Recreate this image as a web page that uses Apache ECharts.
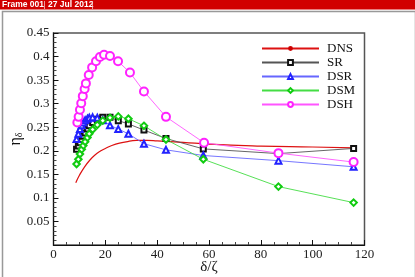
<!DOCTYPE html>
<html><head><meta charset="utf-8">
<script src="https://cdn.jsdelivr.net/npm/echarts@6/dist/echarts.min.js"></script>
<style>html,body{margin:0;padding:0;background:#fff}#c{width:415px;height:277px}</style>
</head><body><div id="c"></div>
<script>
var dnsX = [8.6, 10, 12, 14, 16, 18, 20, 24, 28, 32, 36, 40, 50, 60, 80, 100, 116];
var dnsY = [0.132, 0.148, 0.166, 0.180, 0.191, 0.199, 0.205, 0.214, 0.219, 0.222, 0.222, 0.221, 0.218, 0.214, 0.210, 0.208, 0.206];
var modelX = [8.9, 9.6, 10.2, 10.9, 11.5, 12.2, 13.1, 13.8, 15.1, 16.9, 19.0, 21.8, 25.0, 28.9, 34.9, 43.4, 57.8, 86.8, 115.8];
var srY  = [0.203, 0.210, 0.217, 0.224, 0.231, 0.238, 0.246, 0.253, 0.260, 0.267, 0.271, 0.271, 0.264, 0.257, 0.244, 0.226, 0.204, 0.194, 0.205];
var dsrY = [0.225, 0.236, 0.246, 0.254, 0.260, 0.265, 0.268, 0.270, 0.271, 0.270, 0.265, 0.254, 0.246, 0.236, 0.215, 0.202, 0.190, 0.179, 0.166];
var dsmY = [0.172, 0.182, 0.193, 0.203, 0.211, 0.219, 0.228, 0.236, 0.245, 0.255, 0.264, 0.270, 0.273, 0.268, 0.253, 0.224, 0.182, 0.124, 0.090];
var dshX = [9.2, 9.7, 10.2, 10.7, 11.3, 12.0, 12.5, 13.6, 14.9, 16.4, 17.9, 19.5, 21.8, 24.9, 29.5, 34.9, 43.4, 58.1, 86.8, 115.8];
var dshY = [0.260, 0.272, 0.287, 0.301, 0.316, 0.331, 0.343, 0.361, 0.377, 0.390, 0.399, 0.404, 0.401, 0.390, 0.366, 0.326, 0.272, 0.217, 0.195, 0.176];
var seriesNames = ['DNS', 'SR', 'DSR', 'DSM', 'DSH'];
var headerText1 = 'Frame 001';
var headerText2 = '27 Jul 2012';

function pairs(xs, ys) { return xs.map(function (x, i) { return [x, ys[i]]; }); }

var markColors = ['#cc0000', '#111', '#2222ff', '#11cc11', '#ff22ff'];

var serif = 'Liberation Serif';
var chart = echarts.init(document.getElementById('c'), null, {renderer: 'canvas'});
chart.setOption({
  animation: false,
  backgroundColor: '#fff',
  grid: {left: 53.5, right: 50.5, top: 33, bottom: 32, containLabel: false, outerBoundsMode: 'none',
    show: true, borderColor: '#555', borderWidth: 1.5, backgroundColor: 'transparent'},
  xAxis: {
    type: 'value', min: 0, max: 120, interval: 20,
    name: 'δ/ζ', nameLocation: 'middle', nameGap: 15, nameMoveOverlap: false,
    nameTextStyle: {fontFamily: serif, fontSize: 15, color: '#111'},
    axisLine: {lineStyle: {color: '#111', width: 1}},
    axisTick: {inside: true, length: 5, lineStyle: {color: '#111'}},
    minorTick: {show: true, splitNumber: 4, length: 3, lineStyle: {color: '#444'}},
    axisLabel: {fontFamily: serif, fontSize: 13, color: '#222', margin: 3},
    splitLine: {show: false}
  },
  yAxis: {
    type: 'value', min: 0, max: 0.45, interval: 0.05,
    name: 'η{s|δ}', nameLocation: 'middle', nameGap: 29, nameRotate: 90, nameMoveOverlap: false,
    nameTextStyle: {fontFamily: serif, fontSize: 16, color: '#111', rich: {s: {fontFamily: serif, fontSize: 10, verticalAlign: 'bottom', padding: [8, 0, 0, 0]}}},
    axisLine: {lineStyle: {color: '#111', width: 1}},
    axisTick: {inside: true, length: 5, lineStyle: {color: '#111'}},
    minorTick: {show: true, splitNumber: 5, length: 3, lineStyle: {color: '#444'}},
    axisLabel: {fontFamily: serif, fontSize: 13, color: '#222', margin: 4,
      formatter: function (v) { return v === 0 ? '' : String(+v.toFixed(2)); }},
    splitLine: {show: false}
  },
  legend: {
    left: 256, top: 37, orient: 'vertical', itemWidth: 57, itemHeight: 6, itemGap: 1,
    textStyle: {fontFamily: serif, fontSize: 13, lineHeight: 13, color: '#111', padding: [0, 0, 0, 3]},
    data: seriesNames
  },
  series: [
    {name: 'DNS', type: 'line', data: pairs(dnsX, dnsY), smooth: true, showSymbol: false, symbol: 'none',
      lineStyle: {color: '#dd1111', width: 1.2}, itemStyle: {color: markColors[0]}},
    {name: 'SR', type: 'line', data: pairs(modelX, srY), symbol: 'emptyRect', symbolSize: 5,
      lineStyle: {color: '#555', width: 0.9}, itemStyle: {color: markColors[1], borderWidth: 0.9}},
    {name: 'DSR', type: 'line', data: pairs(modelX, dsrY), symbol: 'emptyTriangle', symbolSize: 6,
      lineStyle: {color: '#6666ff', width: 0.9}, itemStyle: {color: markColors[2], borderWidth: 0.9}},
    {name: 'DSM', type: 'line', data: pairs(modelX, dsmY), symbol: 'emptyDiamond', symbolSize: 6.5,
      lineStyle: {color: '#44dd44', width: 0.9}, itemStyle: {color: markColors[3], borderWidth: 0.9}},
    {name: 'DSH', type: 'line', data: pairs(dshX, dshY), symbol: 'emptyCircle', symbolSize: 8,
      lineStyle: {color: '#ff55ff', width: 0.9}, itemStyle: {color: markColors[4], borderWidth: 0.9}}
  ],
  graphic: [
    {type: 'rect', left: 0, top: 0, shape: {width: 415, height: 9.5}, style: {fill: '#d10000'}, z: 10},
    {type: 'text', left: 2, top: 0.5, style: {text: headerText1, fill: '#fff', font: 'bold 8.5px "Liberation Sans"'}, z: 11},
    {type: 'rect', left: 44, top: 1, shape: {width: 0.8, height: 8}, style: {fill: '#f0c0c0'}, z: 11},
    {type: 'text', left: 48, top: 0.5, style: {text: headerText2, fill: '#fff', font: 'bold 8.5px "Liberation Sans"'}, z: 11},
    {type: 'rect', left: 92, top: 1, shape: {width: 0.8, height: 8}, style: {fill: '#f0c0c0'}, z: 11},
    {type: 'rect', left: 0, top: 9, shape: {width: 413, height: 267}, style: {fill: 'none', stroke: '#999', lineWidth: 1.5}, z: 9}
  ]
});
</script></body></html>
